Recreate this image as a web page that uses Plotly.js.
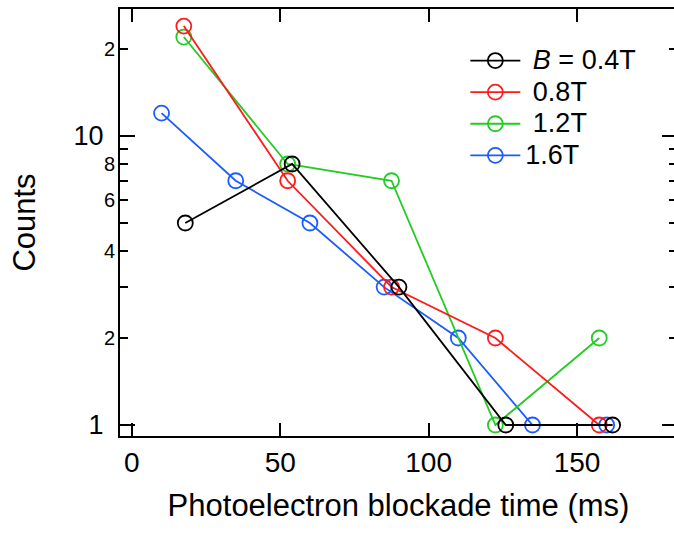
<!DOCTYPE html>
<html>
<head>
<meta charset="utf-8">
<script src="https://cdn.plot.ly/plotly-3.0.1.min.js"></script>
<style>
html, body { margin:0; padding:0; overflow:hidden; background:#fff; }
#chart { width:680px; height:541px; }
</style>
</head>
<body>
<div id="chart"></div>
<script>
// Data
var seriesNames = ['\u00a0<i>B</i> = 0.4T', '\u00a00.8T', '\u00a01.2T', '1.6T'];
var seriesColors = ['#000000', '#ff1a1a', '#22cc22', '#1a5cff'];

var x04 = [18, 54, 90, 126, 162];
var y04 = [5, 8, 3, 1, 1];

var x08 = [17.5, 52.5, 87.5, 122.5, 157.5];
var y08 = [24, 7, 3, 2, 1];

var x12 = [17.5, 52.5, 87.5, 122.5, 157.5];
var y12 = [22, 8, 7, 1, 2];

var x16 = [10, 35, 60, 85, 110, 135, 160];
var y16 = [12, 7, 5, 3, 2, 1, 1];

var xTickVals = [0, 50, 100, 150];
var xTickText = ['0', '50', '100', '150'];
var yMajorVals = [1, 10];
var yMajorText = ['1', '10'];
var ySmallVals = [2, 3, 4, 5, 6, 7, 8, 9, 20];
var ySmallText = ['2', '', '4', '', '6', '', '8', '', '2'];

function mk(x, y, name, color) {
  return {
    x: x, y: y, name: '<span style="font-size:27px">' + name + '</span>',
    type: 'scatter', mode: 'lines+markers',
    line: {color: color, width: 1.8},
    marker: {symbol: 'circle-open', size: 15, color: color, line: {width: 1.8, color: color}}
  };
}

// draw order: blue, green, red, black (black on top); legend reversed
var data = [
  mk(x16, y16, seriesNames[3], seriesColors[3]),
  mk(x12, y12, seriesNames[2], seriesColors[2]),
  mk(x08, y08, seriesNames[1], seriesColors[1]),
  mk(x04, y04, seriesNames[0], seriesColors[0]),
  // empty carrier so the overlay axis (small ticks and labels) is drawn
  {x: [], y: [], yaxis: 'y2', type: 'scatter', mode: 'markers', showlegend: false, hoverinfo: 'skip'}
];

var yRange = [-0.038, 1.4394];

var layout = {
  width: 680, height: 541,
  margin: {l: 120, r: 3, t: 9, b: 105},
  paper_bgcolor: '#ffffff', plot_bgcolor: '#ffffff',
  font: {family: 'Liberation Sans, Arial, sans-serif', color: '#000'},
  showlegend: true,
  legend: {
    x: 0.62, y: 0.928, xanchor: 'left', yanchor: 'top',
    font: {size: 22, color: '#000'}, bgcolor: 'rgba(0,0,0,0)',
    traceorder: 'reversed', itemwidth: 50, tracegroupgap: 0
  },
  xaxis: {
    range: [-4, 183.7], tickmode: 'array', tickvals: xTickVals, ticktext: xTickText,
    ticks: 'inside', ticklen: 13, tickwidth: 2, tickcolor: '#000',
    showline: true, linewidth: 2, linecolor: '#000', mirror: 'ticks',
    showgrid: false, zeroline: false, tickfont: {size: 28},
    title: {text: 'Photoelectron blockade time (ms)', font: {size: 31}, standoff: 18}
  },
  yaxis: {
    type: 'log', range: yRange, tickmode: 'array', tickvals: yMajorVals, ticktext: yMajorText,
    ticks: 'inside', ticklen: 15, tickwidth: 2, tickcolor: '#000',
    showline: true, linewidth: 2, linecolor: '#000', mirror: 'ticks',
    showgrid: false, zeroline: false, tickfont: {size: 27}, ticklabelstandoff: 9,
    title: {text: 'Counts', font: {size: 31}, standoff: 29}
  },
  yaxis2: {
    type: 'log', overlaying: 'y', anchor: 'x', side: 'left', range: yRange,
    tickmode: 'array', tickvals: ySmallVals, ticktext: ySmallText,
    ticks: 'inside', ticklen: 8, tickwidth: 2, tickcolor: '#000',
    showline: true, linewidth: 2, linecolor: '#000', mirror: 'ticks',
    showgrid: false, zeroline: false,
    tickfont: {size: 20}, ticklabelstandoff: -1
  }
};

Plotly.newPlot('chart', data, layout, {displayModeBar: false, staticPlot: true});
</script>
</body>
</html>
